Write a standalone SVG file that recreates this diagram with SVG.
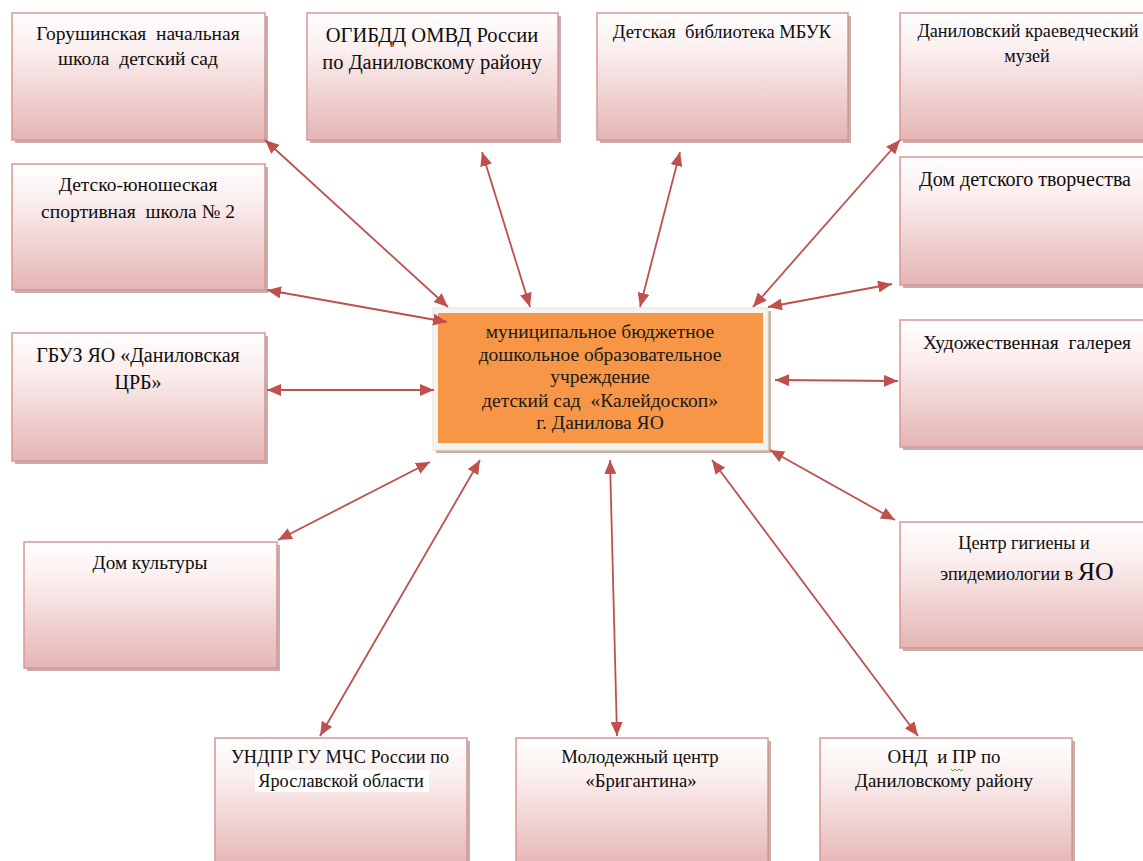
<svg xmlns="http://www.w3.org/2000/svg" width="1143" height="861" viewBox="0 0 1143 861" xml:space="preserve">
<defs>
<linearGradient id="pink" x1="0" y1="0" x2="0" y2="1">
<stop offset="0" stop-color="#ffffff"/>
<stop offset="0.3" stop-color="#fbeeee"/>
<stop offset="1" stop-color="#e4b5b4"/>
</linearGradient>
<marker id="ah" viewBox="0 0 14 12" refX="14" refY="6" markerWidth="14" markerHeight="12" markerUnits="userSpaceOnUse" orient="auto-start-reverse">
<path d="M0,0 L14,6 L0,12 Z" fill="#c0504d"/>
</marker>
<style>
.sh{fill:#b89a9a;opacity:0.8}
.bx{fill:url(#pink);stroke:#d99694;stroke-width:1.5}
.t{font-family:"Liberation Serif","DejaVu Serif",serif;font-size:19.5px;fill:#0d0d0d;text-anchor:middle;white-space:pre}
.ct{font-family:"Liberation Serif","DejaVu Serif",serif;font-size:19.5px;fill:#1a1a1a;text-anchor:middle;white-space:pre}
.c{stroke:#c0504d;stroke-width:1.8;fill:none;marker-start:url(#ah);marker-end:url(#ah)}
</style>
</defs>
<rect width="1143" height="861" fill="#ffffff"/>
<g font-family="Liberation Serif, DejaVu Serif, serif">
<g id="n1"><rect class="sh" x="15" y="16" width="253" height="127"/><rect class="bx" x="12" y="13" width="253" height="127"/>
<text class="t" x="138" y="40" style="font-size:19.5px">Горушинская  начальная</text><text class="t" x="138" y="65" style="font-size:19.5px">школа  детский сад</text></g>

<g id="n2"><rect class="sh" x="310" y="16" width="251" height="127"/><rect class="bx" x="307" y="13" width="251" height="127"/>
<text class="t" x="432" y="42" style="font-size:20.5px">ОГИБДД ОМВД России</text><text class="t" x="432" y="69" style="font-size:20.5px">по Даниловскому району</text></g>

<g id="n3"><rect class="sh" x="600" y="16" width="251" height="127"/><rect class="bx" x="597" y="13" width="251" height="127"/>
<text class="t" x="722" y="38" style="font-size:18.5px">Детская  библиотека МБУК</text></g>

<g id="n4"><rect class="sh" x="903" y="16" width="253" height="127"/><rect class="bx" x="900" y="13" width="253" height="127"/>
<text class="t" x="1028" y="37" style="font-size:18.2px">Даниловский краеведческий</text><text class="t" x="1027" y="62" style="font-size:18.2px">музей</text></g>

<g id="n5"><rect class="sh" x="15" y="167" width="253" height="126"/><rect class="bx" x="12" y="164" width="253" height="126"/>
<text class="t" x="138" y="191">Детско-юношеская</text><text class="t" x="138" y="218">спортивная  школа № 2</text></g>

<g id="n6"><rect class="sh" x="903" y="160" width="253" height="128"/><rect class="bx" x="900" y="157" width="253" height="128"/>
<text class="t" x="1025" y="186" style="font-size:20px">Дом детского творчества</text></g>

<g id="n7"><rect class="sh" x="15" y="336" width="253" height="128"/><rect class="bx" x="12" y="333" width="253" height="128"/>
<text class="t" x="138" y="362" style="font-size:20px">ГБУЗ ЯО «Даниловская</text><text class="t" x="138" y="389" style="font-size:20px">ЦРБ»</text></g>

<g id="n8"><rect class="sh" x="903" y="323" width="253" height="127"/><rect class="bx" x="900" y="320" width="253" height="127"/>
<text class="t" x="1027" y="349">Художественная  галерея</text></g>

<g id="n9"><rect class="sh" x="27" y="545" width="253" height="126"/><rect class="bx" x="24" y="542" width="253" height="126"/>
<text class="t" x="150" y="569" style="font-size:19.2px">Дом культуры</text></g>

<g id="n10"><rect class="sh" x="903" y="525" width="253" height="126"/><rect class="bx" x="900" y="522" width="253" height="126"/>
<text class="t" x="1024" y="549" style="font-size:18.2px">Центр гигиены и</text><text class="t" x="1027" y="580" style="font-size:18.2px">эпидемиологии в <tspan style="font-size:26px">ЯО</tspan></text></g>

<g id="n11"><rect class="sh" x="218" y="741" width="252" height="130"/><rect class="bx" x="215" y="738" width="252" height="130"/>
<rect x="255" y="770" width="174" height="22" fill="#ffffff"/>
<text class="t" x="340" y="763" style="font-size:18.3px">УНДПР ГУ МЧС России по</text><text class="t" x="341" y="787" style="font-size:18.3px">Ярославской области</text></g>

<g id="n12"><rect class="sh" x="519" y="741" width="252" height="130"/><rect class="bx" x="516" y="738" width="252" height="130"/>
<text class="t" x="640" y="763" style="font-size:18.7px">Молодежный центр</text><text class="t" x="641" y="787" style="font-size:18.7px">«Бригантина»</text></g>

<g id="n13"><rect class="sh" x="823" y="741" width="252" height="130"/><rect class="bx" x="820" y="738" width="252" height="130"/>
<text class="t" x="944" y="763" style="font-size:18.9px">ОНД  и ПР по</text><text class="t" x="944" y="787" style="font-size:18.9px">Даниловскому району</text>
<path d="M951,769 l2,2 l2,-2 l2,2 l2,-2 l2,2 l2,-2" fill="none" stroke="#3a9a3a" stroke-width="0.9"/></g>

<g id="center"><rect x="436" y="311" width="335" height="142" fill="#c9b29c"/><rect x="433" y="308" width="335" height="142" fill="#f4f4f2" stroke="#e2e2e0" stroke-width="1"/>
<rect x="438" y="313" width="325" height="130" fill="#f79646"/>
<text class="ct" x="600" y="338">муниципальное бюджетное</text>
<text class="ct" x="600" y="361">дошкольное образовательное</text>
<text class="ct" x="600" y="383">учреждение</text>
<text class="ct" x="600" y="407">детский сад  «Калейдоскоп»</text>
<text class="ct" x="600" y="429">г. Данилова ЯО</text></g>
</g>
<g id="connectors">
<line class="c" x1="265" y1="140" x2="448" y2="307"/>
<line class="c" x1="482" y1="152" x2="530" y2="307"/>
<line class="c" x1="680" y1="152" x2="640" y2="307"/>
<line class="c" x1="900" y1="140" x2="753" y2="307"/>
<line class="c" x1="892" y1="284" x2="768" y2="307"/>
<line class="c" x1="267" y1="290" x2="447" y2="322"/>
<line class="c" x1="267" y1="390" x2="434" y2="390"/>
<line class="c" x1="775" y1="380" x2="898" y2="381"/>
<line class="c" x1="278" y1="540" x2="430" y2="462"/>
<line class="c" x1="770" y1="450" x2="895" y2="520"/>
<line class="c" x1="320" y1="736" x2="480" y2="460"/>
<line class="c" x1="617" y1="736" x2="610" y2="460"/>
<line class="c" x1="918" y1="736" x2="712" y2="460"/>
</g>
</svg>
